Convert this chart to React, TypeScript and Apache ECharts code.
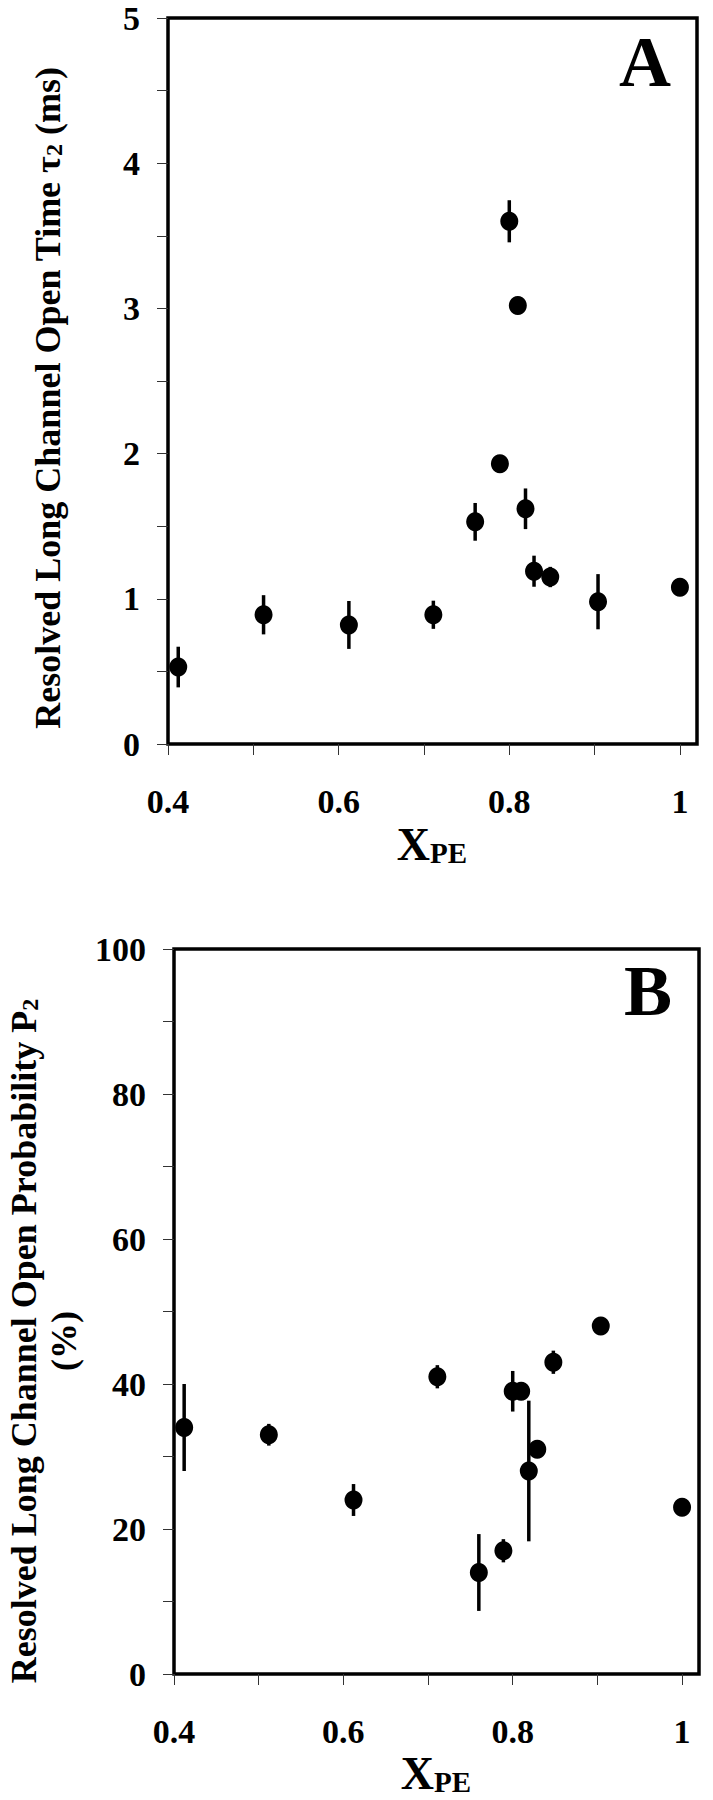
import React, { useEffect, useRef } from "react";
import * as echarts from "echarts";

// X_PE mole fraction (shared by both panels)
const xPE = [0.412, 0.512, 0.612, 0.711, 0.76, 0.789, 0.8, 0.81, 0.819, 0.829, 0.848, 0.904, 1.0];
// Panel A: resolved long channel open time tau2 (ms) and error
const tau2 = [0.53, 0.89, 0.82, 0.89, 1.53, 1.93, 3.6, 3.02, 1.62, 1.19, 1.15, 0.98, 1.08];
const tau2Err = [0.14, 0.135, 0.165, 0.097, 0.13, 0, 0.145, 0, 0.14, 0.107, 0.07, 0.19, 0];
// Panel B: resolved long channel open probability P2 (%) and error
const p2 = [34, 33, 24, 41, 14, 17, 39, 39, 28, 31, 43, 48, 23];
const p2Err = [6, 1.5, 2.2, 1.6, 5.3, 1.6, 2.8, 0.8, 9.7, 0.8, 1.6, 1.0, 1.0];

const xTickLabels: Record<number, string> = { 4: "0.4", 6: "0.6", 8: "0.8", 10: "1" };
const tauTickLabels = ["0", "1", "2", "3", "4", "5"];
const p2TickLabels = ["0", "20", "40", "60", "80", "100"];

const FONT = "'Liberation Serif', 'Times New Roman', serif";

export default function App() {
  const ref = useRef<HTMLDivElement>(null);

  useEffect(() => {
    if (!ref.current) return;
    const chart = echarts.init(ref.current, undefined, { renderer: "svg" });

    const ptsA = xPE.map((x, i) => [x, tau2[i]]);
    const errA = xPE.map((x, i) => [x, tau2[i] - tau2Err[i], tau2[i] + tau2Err[i]]);
    const ptsB = xPE.map((x, i) => [x, p2[i]]);
    const errB = xPE.map((x, i) => [x, p2[i] - p2Err[i], p2[i] + p2Err[i]]);

    const errRender = (params: any, api: any) => {
      const x = api.value(0);
      const lo = api.coord([x, api.value(1)]);
      const hi = api.coord([x, api.value(2)]);
      return {
        type: "line",
        shape: { x1: lo[0], y1: lo[1], x2: hi[0], y2: hi[1] },
        style: { stroke: "#000", lineWidth: 3.5 },
      };
    };

    const labelStyle = {
      color: "#000",
      fontFamily: FONT,
      fontWeight: "bold",
      fontSize: 34,
    };

    const tickStyle = { show: true, inside: false, length: 11, lineStyle: { color: "#333", width: 1 } };

    const xAxisBase = (gridIndex: number) => ({
      type: "value",
      gridIndex,
      min: 0.4,
      max: 1.02,
      interval: 0.1,
      axisLine: { show: false },
      splitLine: { show: false },
      axisTick: tickStyle,
      axisLabel: {
        ...labelStyle,
        margin: 40,
        showMaxLabel: false,
        formatter: (v: number) => xTickLabels[Math.round(v * 10)] ?? "",
      },
    });

    const scatterBase = {
      type: "scatter",
      symbol: "circle",
      symbolSize: [18, 19],
      itemStyle: { color: "#000", opacity: 1 },
      emphasis: { disabled: true },
      z: 3,
    };

    const subTitle = (x: number, y: number) => ({
      type: "text",
      x,
      y,
      style: {
        text: "{x|X}{s|PE}",
        textAlign: "center",
        textVerticalAlign: "middle",
        fill: "#000",
        rich: {
          x: { fontFamily: FONT, fontWeight: "bold", fontSize: 46, fill: "#000" },
          s: { fontFamily: FONT, fontWeight: "bold", fontSize: 29, fill: "#000", verticalAlign: "bottom" },
        },
      },
    });

    chart.setOption({
      animation: false,
      backgroundColor: "#fff",
      grid: [
        { left: 168, top: 18, width: 529, height: 726, show: true, borderColor: "#000", borderWidth: 3.5 },
        { left: 174, top: 949, width: 525, height: 725, show: true, borderColor: "#000", borderWidth: 3.5 },
      ],
      xAxis: [xAxisBase(0), xAxisBase(1)],
      yAxis: [
        {
          type: "value",
          gridIndex: 0,
          min: 0,
          max: 5,
          interval: 0.5,
          axisLine: { show: false },
          splitLine: { show: false },
          axisTick: tickStyle,
          axisLabel: {
            ...labelStyle,
            margin: 28,
            formatter: (v: number) => (Number.isInteger(v) ? tauTickLabels[v] : ""),
          },
        },
        {
          type: "value",
          gridIndex: 1,
          min: 0,
          max: 100,
          interval: 10,
          axisLine: { show: false },
          splitLine: { show: false },
          axisTick: tickStyle,
          axisLabel: {
            ...labelStyle,
            margin: 28,
            formatter: (v: number) => (Math.round(v) % 20 === 0 ? p2TickLabels[Math.round(v) / 20] : ""),
          },
        },
      ],
      series: [
        {
          type: "custom",
          xAxisIndex: 0,
          yAxisIndex: 0,
          renderItem: errRender,
          encode: { x: 0, y: [1, 2] },
          data: errA,
          z: 2,
        },
        { ...scatterBase, xAxisIndex: 0, yAxisIndex: 0, data: ptsA },
        {
          type: "custom",
          xAxisIndex: 1,
          yAxisIndex: 1,
          renderItem: errRender,
          encode: { x: 0, y: [1, 2] },
          data: errB,
          z: 2,
        },
        { ...scatterBase, xAxisIndex: 1, yAxisIndex: 1, data: ptsB },
      ],
      graphic: [
        {
          type: "text",
          x: 48,
          y: 398,
          rotation: Math.PI / 2,
          style: {
            text: "{m|Resolved Long Channel Open Time τ}{s|2}{m| (ms)}",
            textAlign: "center",
            textVerticalAlign: "middle",
            fill: "#000",
            rich: {
              m: { fontFamily: FONT, fontWeight: "bold", fontSize: 36, fill: "#000" },
              s: { fontFamily: FONT, fontWeight: "bold", fontSize: 24, fill: "#000", verticalAlign: "bottom" },
            },
          },
        },
        {
          type: "text",
          x: 24,
          y: 1341,
          rotation: Math.PI / 2,
          style: {
            text: "{m|Resolved Long Channel Open Probability P}{s|2}",
            textAlign: "center",
            textVerticalAlign: "middle",
            fill: "#000",
            rich: {
              m: { fontFamily: FONT, fontWeight: "bold", fontSize: 36, fill: "#000" },
              s: { fontFamily: FONT, fontWeight: "bold", fontSize: 24, fill: "#000", verticalAlign: "bottom" },
            },
          },
        },
        {
          type: "text",
          x: 64,
          y: 1341,
          rotation: Math.PI / 2,
          style: {
            text: "(%)",
            textAlign: "center",
            textVerticalAlign: "middle",
            fill: "#000",
            fontFamily: FONT,
            fontWeight: "bold",
            fontSize: 36,
          },
        },
        subTitle(432, 844),
        subTitle(436, 1773),
        {
          type: "text",
          x: 645,
          y: 62,
          style: {
            text: "A",
            textAlign: "center",
            textVerticalAlign: "middle",
            fill: "#000",
            fontFamily: FONT,
            fontWeight: "bold",
            fontSize: 72,
          },
        },
        {
          type: "text",
          x: 648,
          y: 991,
          style: {
            text: "B",
            textAlign: "center",
            textVerticalAlign: "middle",
            fill: "#000",
            fontFamily: FONT,
            fontWeight: "bold",
            fontSize: 72,
          },
        },
      ],
    });

    return () => chart.dispose();
  }, []);

  return (
    <div
      ref={ref}
      style={{ position: "absolute", left: 0, top: 0, width: 713, height: 1800, background: "#fff" }}
    />
  );
}
